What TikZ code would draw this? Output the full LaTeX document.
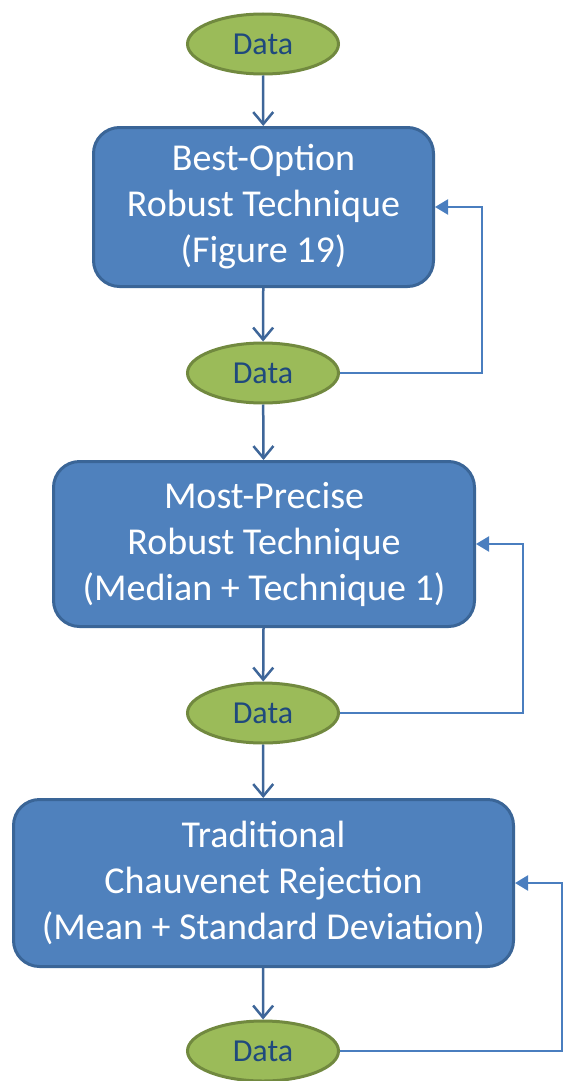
\documentclass[tikz,border=0pt]{standalone}
\usepackage{fontspec}
\setmainfont{Carlito}
\usetikzlibrary{arrows.meta,shapes.geometric}
\definecolor{boxfill}{HTML}{4F81BD}
\definecolor{boxline}{HTML}{3A6597}
\definecolor{elfill}{HTML}{9BBB59}
\definecolor{elline}{HTML}{71893F}
\definecolor{datatext}{HTML}{1F497D}
\definecolor{varrow}{HTML}{3E6699}
\definecolor{fbline}{HTML}{4A7EBF}
\tikzset{
  x=1pt,y=-1pt,
  procbox/.style={draw=boxline, line width=3pt, fill=boxfill, rounded corners=26pt,
    text=white, align=center, inner sep=0pt,
    font=\fontsize{38}{46}\selectfont},
  datael/.style={ellipse, draw=elline, line width=3pt, fill=elfill, inner sep=0pt,
    minimum width=151pt, minimum height=60pt, text=datatext,
    font=\fontsize{32}{38}\selectfont},
  varr/.style={draw=varrow, line width=2.5pt, -{Straight Barb[length=12pt,width=20pt,line width=2.5pt]}},
  fbarr/.style={draw=fbline, line width=2pt, -{Triangle[length=13pt,width=15pt]}}
}
\begin{document}
\begin{tikzpicture}
\useasboundingbox (0,0) rectangle (564,1081);
\node[datael] (e1) at (263,44) {Data};
\node[procbox, minimum width=340pt, minimum height=159pt] (b1) at (263.5,207) {Best-Option\\Robust Technique\\(Figure 19)};
\node[datael] (e2) at (263,373) {Data};
\node[procbox, minimum width=421pt, minimum height=165pt] (b2) at (264,544) {Most-Precise\\Robust Technique\\(Median + Technique 1)};
\node[datael] (e3) at (263,713) {Data};
\node[procbox, minimum width=500pt, minimum height=167pt] (b3) at (263.5,883) {Traditional\\Chauvenet Rejection\\(Mean + Standard Deviation)};
\node[datael] (e4) at (263,1051) {Data};

\draw[varr] (e1) -- (b1);
\draw[varr] (b1) -- (e2);
\draw[varr] (e2) -- (b2);
\draw[varr] (b2) -- (e3);
\draw[varr] (e3) -- (b3);
\draw[varr] (b3) -- (e4);

\draw[fbarr] (e2.east) -- ++(142,0) |- (b1.east);
\draw[fbarr] (e3.east) -- ++(183,0) |- (b2.east);
\draw[fbarr] (e4.east) -- ++(222,0) |- (b3.east);
\end{tikzpicture}
\end{document}
